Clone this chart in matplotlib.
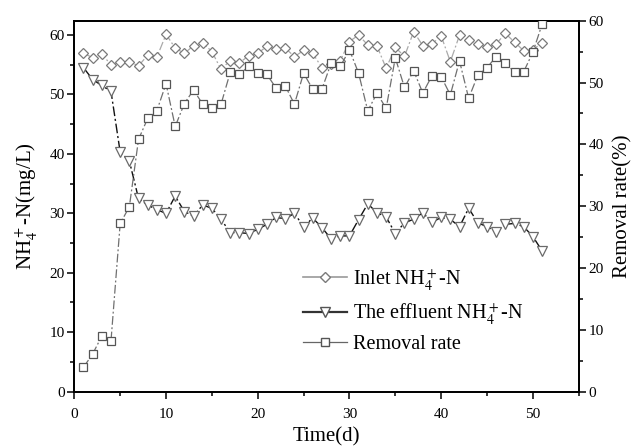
import matplotlib.pyplot as plt
import numpy as np
from matplotlib.lines import Line2D
from matplotlib.ticker import MultipleLocator

plt.rcParams['font.family'] = ['Liberation Serif', 'DejaVu Serif']
plt.rcParams['mathtext.fontset'] = 'stix'

days = np.arange(1, 52)
inlet = [56.9, 56.2, 56.75, 55.0, 55.5, 55.5, 54.8, 56.6, 56.25, 60.1,
         57.8, 56.9, 58.2, 58.7, 57.2, 54.2, 55.7, 55.3, 56.5, 56.9,
         58.1, 57.6, 57.8, 56.35, 57.4, 56.9, 54.5, 55.2, 55.7, 58.9,
         60.0, 58.3, 58.15, 54.4, 57.9, 56.4, 60.55, 58.2, 58.5, 59.85,
         55.5, 59.95, 59.1, 58.5, 57.95, 58.5, 60.25, 58.8, 57.35, 57.5,
         58.7]
effluent = [54.5, 52.5, 51.5, 50.5, 40.3, 38.8, 32.5, 31.4, 30.6, 30.0,
            32.9, 30.3, 29.55, 31.4, 30.85, 29.0, 26.75, 26.75, 26.6, 27.3,
            28.15, 29.3, 29.1, 30.0, 27.75, 29.2, 27.6, 25.7, 26.2, 26.2,
            28.95, 31.6, 30.1, 29.4, 26.6, 28.4, 29.0, 30.1, 28.5, 29.3,
            29.0, 27.75, 30.85, 28.4, 27.75, 26.9, 28.15, 28.3, 27.75, 26.1,
            23.7]
removal = [3.95, 6.1, 9.0, 8.25, 27.2, 29.9, 40.8, 44.2, 45.45, 49.8,
           42.9, 46.6, 48.8, 46.5, 45.9, 46.5, 51.65, 51.3, 52.6, 51.6,
           51.3, 49.1, 49.45, 46.5, 51.5, 48.9, 48.95, 53.1, 52.6, 55.3,
           51.5, 45.4, 48.3, 45.8, 54.0, 49.2, 51.9, 48.3, 51.1, 50.95,
           48.0, 53.5, 47.45, 51.2, 52.4, 54.2, 53.2, 51.65, 51.75, 54.9,
           59.4]

fig = plt.figure(figsize=(6.32, 4.46), dpi=100)
ax = fig.add_axes([0.1176, 0.1218, 0.7981, 0.8318])
ax2 = ax.twinx()

dashdot = (0, (7, 2, 1.5, 2))
ax.plot(days, inlet, color='#aaaaaa', lw=0.9, ls=dashdot, marker='D', ms=5.2,
        mfc='white', mec='#7a7a7a', mew=0.9, zorder=3)
ax.plot(days, effluent, color='#111111', lw=1.0, ls=dashdot, marker='v', ms=7,
        mfc='white', mec='#6a6a6a', mew=0.9, zorder=3)
ax2.plot(days, removal, color='#707070', lw=0.9, ls=dashdot, marker='s', ms=5.2,
         mfc='white', mec='#555555', mew=0.9, zorder=3)

ax.set_xlim(0, 55)
ax.set_ylim(0, 62.4)
ax2.set_ylim(0, 60)

ax.xaxis.set_major_locator(MultipleLocator(10))
ax.xaxis.set_minor_locator(MultipleLocator(5))
ax.yaxis.set_major_locator(MultipleLocator(10))
ax.yaxis.set_minor_locator(MultipleLocator(5))
ax2.yaxis.set_major_locator(MultipleLocator(10))
ax2.yaxis.set_minor_locator(MultipleLocator(5))

for a in (ax, ax2):
    a.tick_params(which='major', direction='out', length=5, width=1.1, labelsize=11, pad=2)
    a.tick_params(which='minor', direction='out', length=3.2, width=1.1)
    for s in a.spines.values():
        s.set_linewidth(1.3)
ax.tick_params(axis='x', which='major', pad=6.5)

ax.set_xlabel('Time(d)', fontsize=15, labelpad=5)
ax.set_ylabel('NH$_4^+$-N(mg/L)', fontsize=15, labelpad=7)
ax2.set_ylabel('Removal rate(%)', fontsize=15, labelpad=7)

handles = [
    Line2D([], [], color='#9a9a9a', lw=1.2, marker='D', ms=5.2, mfc='white', mec='#7a7a7a'),
    Line2D([], [], color='#333333', lw=1.6, marker='v', ms=7, mfc='white', mec='#555555'),
    Line2D([], [], color='#666666', lw=0.9, marker='s', ms=5.2, mfc='white', mec='#555555'),
]
labels = ['Inlet NH$_4^+$-N', 'The effluent NH$_4^+$-N', 'Removal rate']
ax2.legend(handles, labels, loc='upper left', bbox_to_anchor=(0.437, 0.358),
           frameon=False, fontsize=14.5, handlelength=2.2, handletextpad=0.3,
           labelspacing=0.45, borderaxespad=0)

fig.savefig('out.png', dpi=100)
